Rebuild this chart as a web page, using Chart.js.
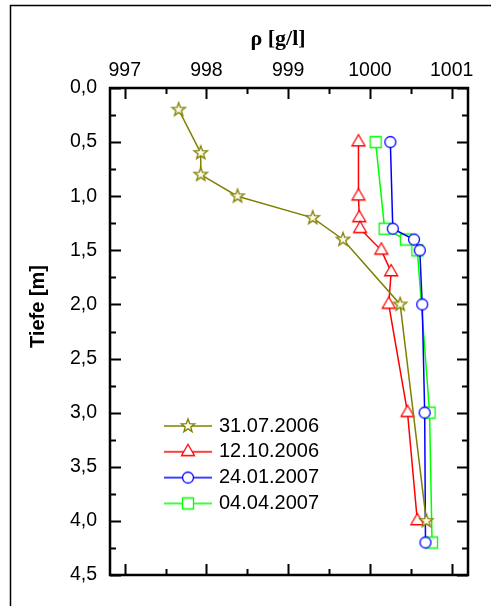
<!DOCTYPE html>
<html lang="de">
<head>
  <meta charset="UTF-8">
  <title>Dichteprofil</title>
  <script src="https://cdn.jsdelivr.net/npm/chart.js"></script>
  <style>
    body { margin: 0; background: #fff; }
    #wrap { position: relative; width: 491px; height: 606px; }
  </style>
</head>
<body>
  <div id="wrap"><canvas id="profil"></canvas></div>

  <script>
    // Messdaten: Dichte rho [g/l] ueber Tiefe [m]
    const dates = ['31.07.2006', '12.10.2006', '24.01.2007', '04.04.2007'];
    const depth1 = [0.2, 0.6, 0.8, 1.0, 1.2, 1.4, 2.0, 4.0];
    const rho1 = [997.66, 997.93, 997.93, 998.38, 999.30, 999.67, 1000.37, 1000.69];
    const depth2 = [0.5, 1.0, 1.2, 1.3, 1.5, 1.7, 2.0, 3.0, 4.0];
    const rho2 = [999.86, 999.86, 999.87, 999.88, 1000.14, 1000.26, 1000.23, 1000.46, 1000.58];
    const depth3 = [0.5, 1.3, 1.4, 1.5, 2.0, 3.0, 4.2];
    const rho3 = [1000.25, 1000.28, 1000.54, 1000.61, 1000.64, 1000.67, 1000.68];
    const depth4 = [0.5, 1.3, 1.4, 1.5, 3.0, 4.2];
    const rho4 = [1000.07, 1000.18, 1000.44, 1000.58, 1000.73, 1000.76];

    // Achsen-Ticks
    const xMajor = [997, 998, 999, 1000, 1001];
    const xMinor = [997.5, 998.5, 999.5, 1000.5];
    const yMajor = [0, 0.5, 1.0, 1.5, 2.0, 2.5, 3.0, 3.5, 4.0, 4.5];
    const yMinor = [0.25, 0.75, 1.25, 1.75, 2.25, 2.75, 3.25, 3.75, 4.25];

    const colors = ['#808000', '#ff0000', '#0000ff', '#00ff00'];
    const shapes = ['star', 'triangle', 'circle', 'square'];

    function drawMarker(ctx, kind, cx, cy, color) {
      ctx.save();
      ctx.strokeStyle = color;
      ctx.fillStyle = kind === 'star' ? '#fbfbe8' : '#ffffff';
      ctx.lineWidth = 1.3;
      ctx.beginPath();
      if (kind === 'star') {
        for (let i = 0; i < 10; i++) {
          const r = i % 2 ? 2.9 : 7;
          const a = -Math.PI / 2 + i * Math.PI / 5;
          ctx.lineTo(cx + r * Math.cos(a), cy + r * Math.sin(a));
        }
        ctx.closePath();
      } else if (kind === 'triangle') {
        const r = 7.5;
        for (let i = 0; i < 3; i++) {
          const a = -Math.PI / 2 + i * 2 * Math.PI / 3;
          ctx.lineTo(cx + r * Math.cos(a), cy + r * Math.sin(a));
        }
        ctx.closePath();
      } else if (kind === 'circle') {
        ctx.arc(cx, cy, 5.5, 0, Math.PI * 2);
      } else {
        ctx.rect(cx - 5.5, cy - 5.5, 11, 11);
      }
      ctx.fill();
      ctx.stroke();
      ctx.restore();
    }

    function markerImage(kind, color) {
      const c = document.createElement('canvas');
      c.width = 20; c.height = 20;
      drawMarker(c.getContext('2d'), kind, 10, 10, color);
      return c;
    }

    // Legendensymbol: Linie mit Marker in der Mitte
    function legendImage(kind, color) {
      const c = document.createElement('canvas');
      c.width = 48; c.height = 20;
      const g = c.getContext('2d');
      g.strokeStyle = color;
      g.lineWidth = 1.5;
      g.beginPath();
      g.moveTo(0, 10); g.lineTo(48, 10);
      g.stroke();
      drawMarker(g, kind, 24, 10, color);
      return c;
    }

    const series = [[depth1, rho1], [depth2, rho2], [depth3, rho3], [depth4, rho4]];
    const datasets = series.map(([d, r], i) => ({
      label: dates[i],
      data: d.map((y, k) => ({ x: r[k], y: y })),
      borderColor: colors[i],
      borderWidth: 1.5,
      pointStyle: markerImage(shapes[i], colors[i]),
      legendIcon: legendImage(shapes[i], colors[i]),
      tension: 0
    }));

    // Rahmen, nach innen zeigende Ticks, aeusserer Rahmen
    const frameTicks = {
      id: 'frameTicks',
      beforeDraw(chart) {
        const ctx = chart.ctx;
        ctx.save();
        ctx.strokeStyle = '#000';
        ctx.lineWidth = 1.5;
        ctx.strokeRect(10.5, 5.5, 600, 700);
        ctx.restore();
      },
      afterLayout(chart) {
        const lg = chart.legend;
        lg.left = 161.2; lg.top = 410.2;
        lg.right = lg.left + 220; lg.bottom = lg.top + 140;
      },
      afterDatasetsDraw(chart) {
        const { ctx, chartArea: a, scales: { x, y } } = chart;
        ctx.save();
        ctx.strokeStyle = '#000';
        ctx.lineWidth = 2;
        ctx.beginPath();
        const tx = (v, len) => {
          const px = Math.round(x.getPixelForValue(v)) + 0.5;
          ctx.moveTo(px, a.top); ctx.lineTo(px, a.top + len);
          ctx.moveTo(px, a.bottom); ctx.lineTo(px, a.bottom - len);
        };
        const ty = (v, len) => {
          const py = Math.round(y.getPixelForValue(v)) + 0.5;
          ctx.moveTo(a.left, py); ctx.lineTo(a.left + len, py);
          ctx.moveTo(a.right, py); ctx.lineTo(a.right - len, py);
        };
        xMajor.forEach(v => tx(v, 11));
        xMinor.forEach(v => tx(v, 6));
        yMajor.forEach(v => ty(v, 11));
        yMinor.forEach(v => ty(v, 6));
        ctx.stroke();
        ctx.lineWidth = 2.5;
        ctx.strokeRect(a.left, a.top, a.right - a.left, a.bottom - a.top);
        ctx.restore();
      }
    };

    Chart.defaults.font.family = '"Liberation Sans", Arial, sans-serif';
    Chart.defaults.color = '#000';

    const NBSP = '\u00A0';

    new Chart(document.getElementById('profil'), {
      type: 'line',
      data: { datasets },
      options: {
        responsive: true,
        maintainAspectRatio: false,
        animation: false,
        layout: { padding: { left: 0, top: 0, right: 23, bottom: 31 } },
        plugins: {
          tooltip: { enabled: false },
          legend: {
            position: 'chartArea',
            align: 'start',
            labels: {
              usePointStyle: true,
              pointStyleWidth: 42,
              padding: 5.8,
              color: '#000',
              font: { size: 20 },
              generateLabels: chart => chart.data.datasets.map((ds, i) => ({
                text: ds.label,
                pointStyle: ds.legendIcon,
                fillStyle: '#fff',
                strokeStyle: ds.borderColor,
                lineWidth: 0,
                fontColor: '#000',
                hidden: false,
                datasetIndex: i
              }))
            }
          }
        },
        scales: {
          x: {
            type: 'linear',
            position: 'top',
            min: 996.82,
            max: 1001.2,
            grid: { display: false, drawTicks: false },
            border: { display: false },
            afterBuildTicks: s => { s.ticks = xMajor.map(v => ({ value: v })); },
            afterFit: s => { s.height = 88; },
            ticks: {
              padding: 6,
              maxRotation: 0,
              autoSkip: false,
              font: { size: 19.5 },
              callback: v => String(v)
            },
            title: {
              display: true,
              // angehaengte Leerzeichen ruecken den Titel etwas nach links
              text: 'ρ [g/l]' + NBSP.repeat(4),
              font: { family: '"Liberation Serif", "Times New Roman", serif', size: 22, weight: 'bold' },
              padding: { top: 26, bottom: 0 }
            }
          },
          y: {
            type: 'linear',
            reverse: true,
            min: 0,
            max: 4.5,
            grid: { display: false, drawTicks: false },
            border: { display: false },
            afterBuildTicks: s => { s.ticks = yMajor.map(v => ({ value: v })); },
            afterFit: s => { s.width = 110; },
            ticks: {
              padding: 13,
              autoSkip: false,
              font: { size: 19.5 },
              callback: v => v.toFixed(1).replace('.', ',')
            },
            title: {
              display: true,
              // vorangestellte Leerzeichen schieben den Titel etwas nach oben
              text: NBSP.repeat(9) + 'Tiefe [m]',
              font: { size: 20, weight: 'bold' },
              padding: { top: 26, bottom: 0 }
            }
          }
        }
      },
      plugins: [frameTicks]
    });
  </script>
</body>
</html>
